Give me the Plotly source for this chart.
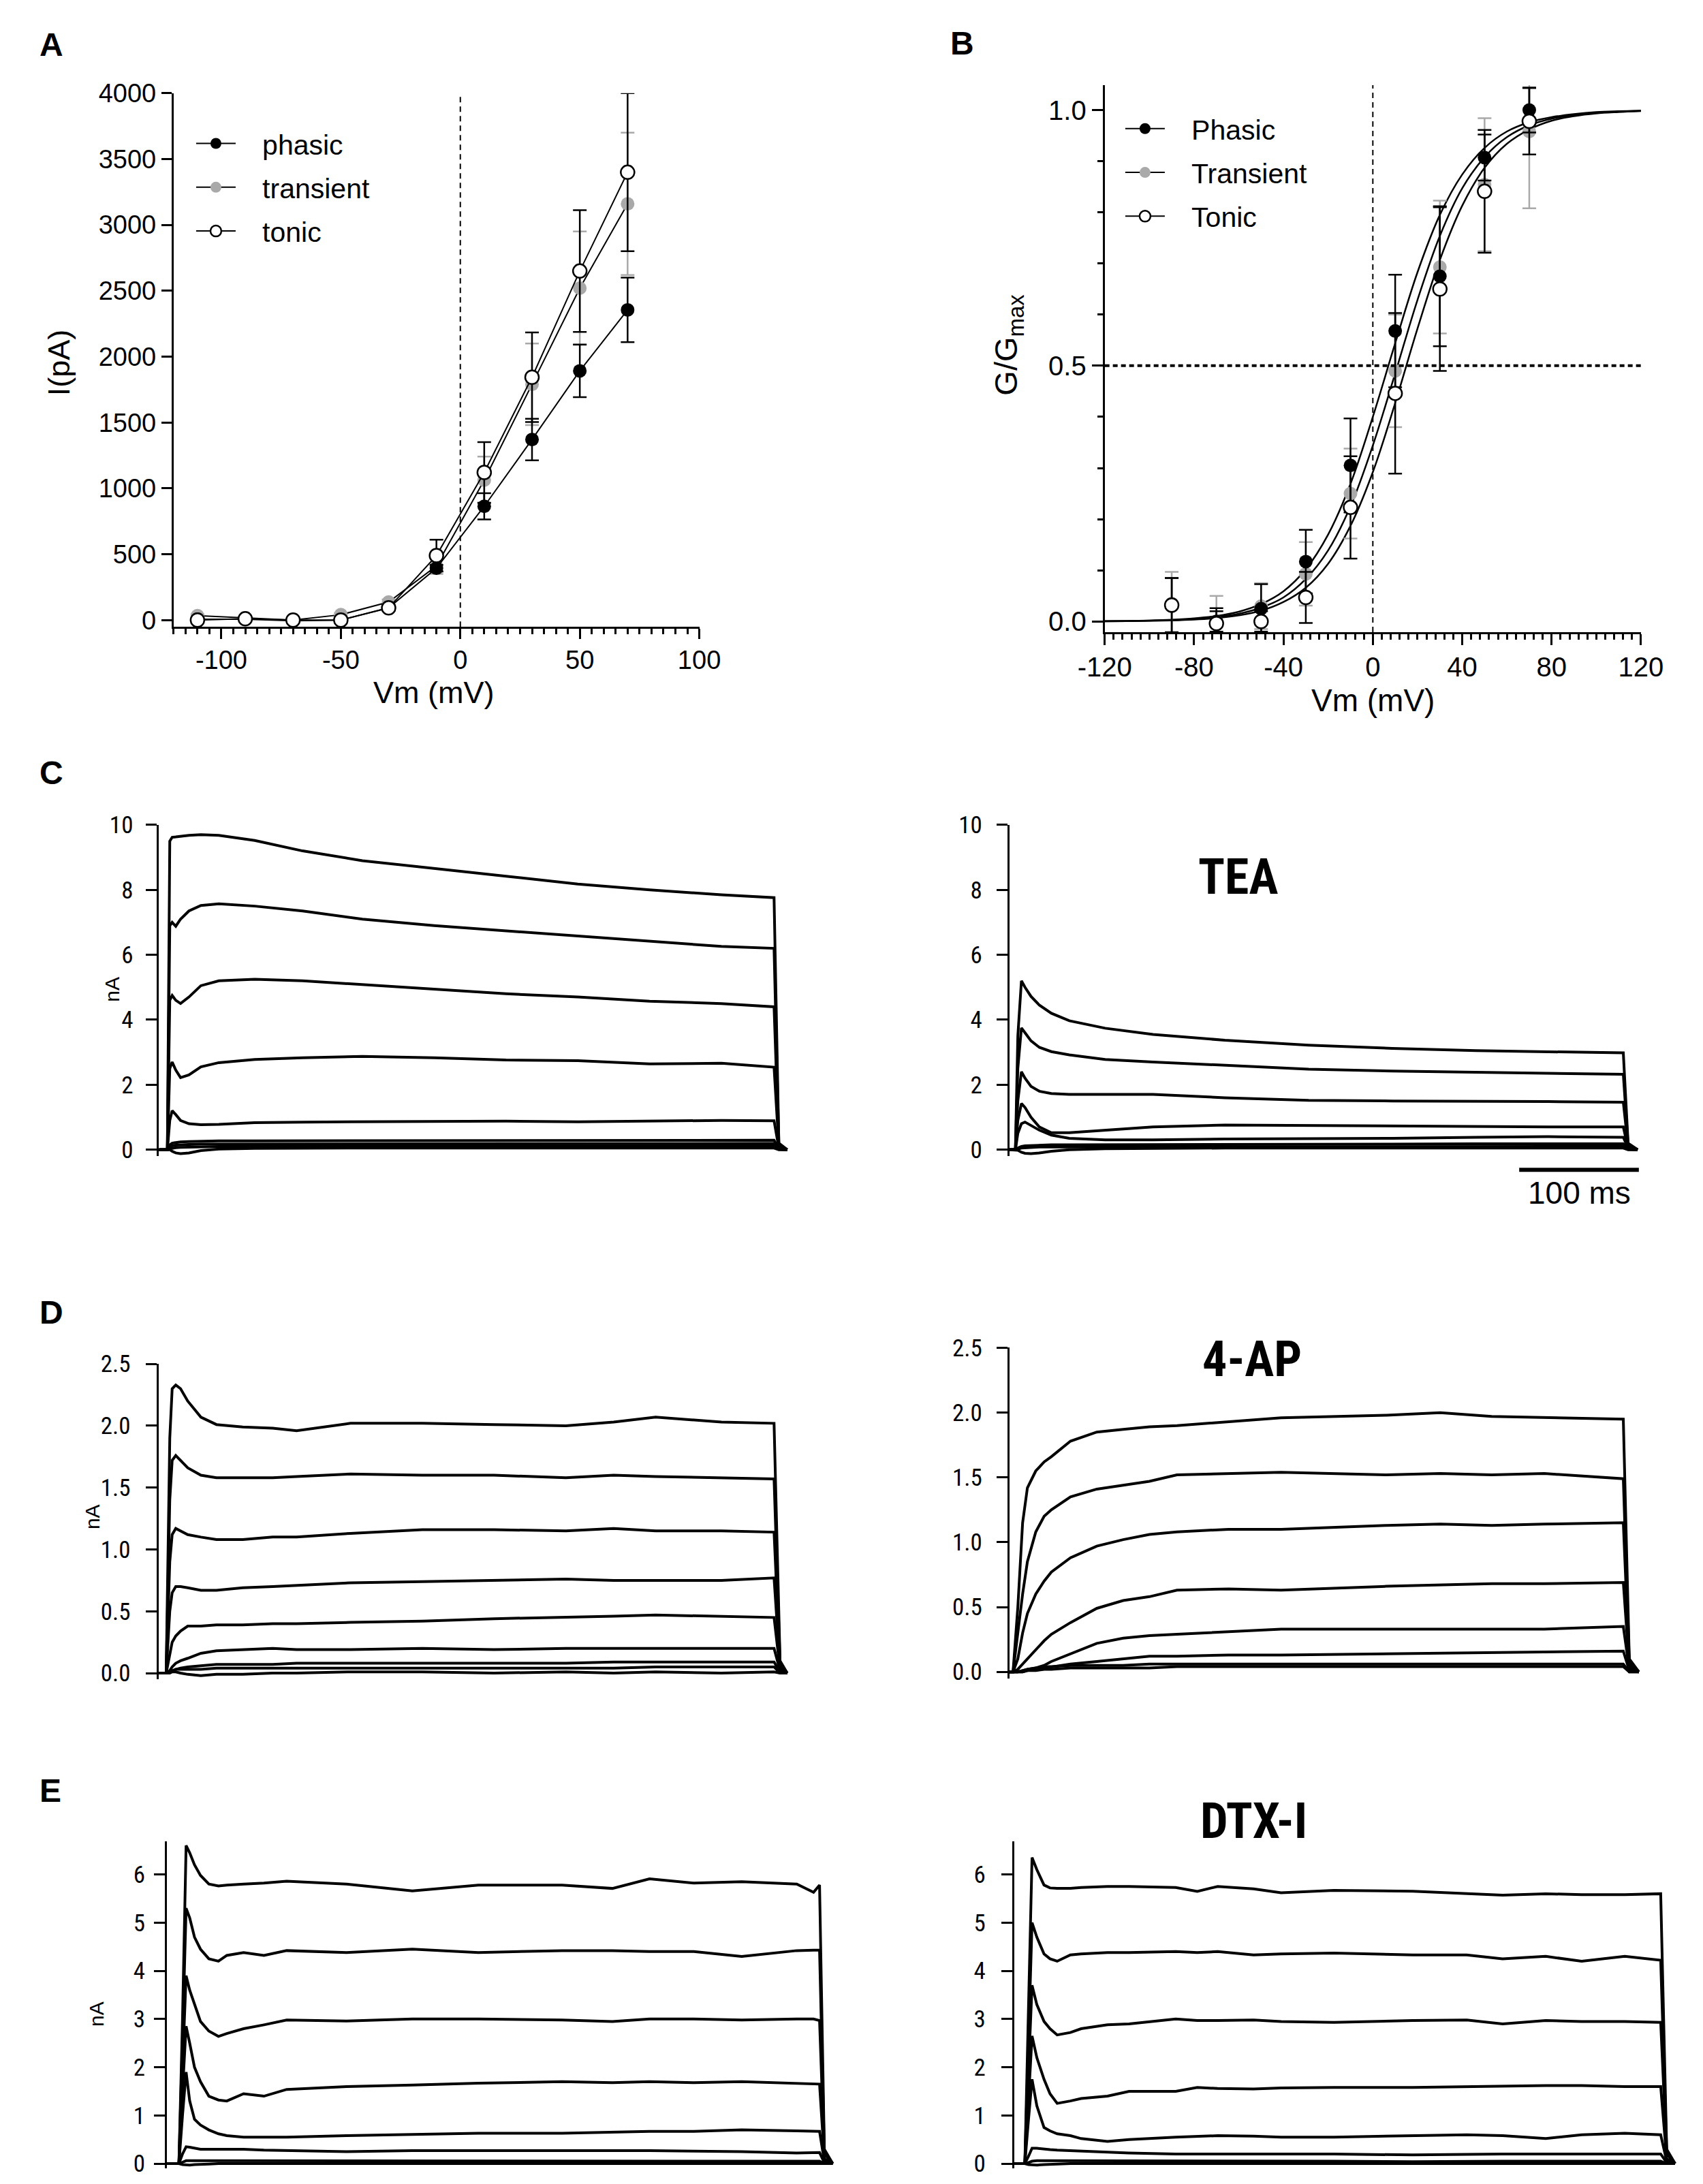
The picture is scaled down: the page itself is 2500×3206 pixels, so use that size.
import plotly.graph_objects as go

W, H = 2500, 3206

# ---------------- panel A : I-V ----------------
iv_vm = [-110, -90, -70, -50, -30, -10, 10, 30, 50, 70]
iv_phasic = [7, 7, -5, 0, 93, 394, 864, 1371, 1892, 2355]
iv_phasic_err = [10, 8, 8, 10, 15, 25, 100, 158, 200, 245]
iv_transient = [34, 17, 0, 41, 137, 411, 1063, 1790, 2520, 3160]
iv_transient_err = [10, 8, 8, 12, 20, 60, 178, 310, 430, 540]
iv_tonic = [0, 10, 0, 0, 93, 490, 1121, 1844, 2650, 3400]
iv_tonic_err = [8, 8, 8, 10, 20, 120, 230, 340, 462, 600]
iv_ticks = [-100, -50, 0, 50, 100]

# ---------------- panel B : G/Gmax ----------------
gv_vm = [-90, -70, -50, -30, -10, 10, 30, 50, 70]
gv_phasic = [0.03, 0.0, 0.025, 0.117, 0.305, 0.568, 0.675, 0.907, 1.0]
gv_phasic_err = [0.055, 0.02, 0.048, 0.062, 0.092, 0.11, 0.137, 0.045, 0.044]
gv_transient = [0.035, 0.0, 0.03, 0.093, 0.25, 0.49, 0.693, 0.854, 0.958]
gv_transient_err = [0.062, 0.05, 0.045, 0.062, 0.088, 0.11, 0.13, 0.13, 0.15]
gv_tonic = [0.032, -0.004, 0.0, 0.047, 0.223, 0.446, 0.65, 0.841, 0.978]
gv_tonic_err = [0.053, 0.03, 0.02, 0.05, 0.1, 0.157, 0.16, 0.12, 0.065]
gv_ticks = [-120, -80, -40, 0, 40, 80, 120]

# Boltzmann fit curves, every 10 mV
fit_vm = [-120, -110, -100, -90, -80, -70, -60, -50, -40, -30, -20, -10, 0,
          10, 20, 30, 40, 50, 60, 70, 80, 90, 100, 110, 120]
fit_phasic = [0.0006, 0.001, 0.0018, 0.0033, 0.006, 0.0107, 0.019, 0.034, 0.059,
              0.102, 0.17, 0.269, 0.40, 0.544, 0.683, 0.795, 0.874, 0.926, 0.958,
              0.976, 0.986, 0.992, 0.996, 0.9977, 0.9987]
fit_transient = [0.00045, 0.0008, 0.0015, 0.0026, 0.0047, 0.0085, 0.015, 0.027,
                 0.047, 0.083, 0.139, 0.225, 0.344, 0.485, 0.629, 0.754, 0.847,
                 0.908, 0.947, 0.970, 0.983, 0.990, 0.9947, 0.997, 0.9984]
fit_tonic = [0.00036, 0.00064, 0.0012, 0.0021, 0.0037, 0.0067, 0.012, 0.021,
             0.038, 0.066, 0.113, 0.187, 0.292, 0.427, 0.573, 0.707, 0.813,
             0.887, 0.934, 0.962, 0.979, 0.988, 0.9933, 0.996, 0.998]

# ---------------- current traces (nA vs ms) ----------------
c_t = [0, 7, 9, 11, 14, 18, 25, 35, 50, 80, 120, 170, 230, 290, 350, 410, 470, 514, 518, 525]
c_i = [
    [0, 0, 9.5, 9.62, 9.63, 9.65, 9.68, 9.7, 9.68, 9.52, 9.2, 8.9, 8.65, 8.42, 8.18, 8.0, 7.85, 7.76, 0.2, 0],
    [0, 0, 6.9, 7.0, 6.88, 7.1, 7.35, 7.52, 7.57, 7.5, 7.35, 7.1, 6.9, 6.74, 6.57, 6.42, 6.26, 6.2, 0.15, 0],
    [0, 0, 4.6, 4.75, 4.6, 4.5, 4.7, 5.05, 5.2, 5.25, 5.2, 5.08, 4.95, 4.8, 4.7, 4.57, 4.5, 4.4, 0.1, 0],
    [0, 0, 2.5, 2.7, 2.45, 2.22, 2.3, 2.55, 2.68, 2.78, 2.83, 2.87, 2.83, 2.76, 2.74, 2.64, 2.66, 2.54, 0.08, 0],
    [0, 0, 0.9, 1.2, 1.08, 0.9, 0.8, 0.77, 0.78, 0.83, 0.85, 0.86, 0.87, 0.88, 0.86, 0.88, 0.9, 0.89, 0.05, 0],
    [0, 0, 0.15, 0.2, 0.22, 0.24, 0.25, 0.26, 0.27, 0.27, 0.27, 0.28, 0.27, 0.28, 0.28, 0.28, 0.29, 0.29, 0.03, 0],
    [0, 0, 0.08, 0.12, 0.14, 0.15, 0.16, 0.17, 0.17, 0.18, 0.18, 0.18, 0.18, 0.18, 0.19, 0.19, 0.19, 0.19, 0.02, 0],
    [0, 0, 0.03, 0.05, 0.06, 0.07, 0.08, 0.09, 0.1, 0.1, 0.1, 0.1, 0.11, 0.11, 0.11, 0.11, 0.12, 0.12, 0.01, 0],
    [0, 0, 0, -0.05, -0.1, -0.12, -0.1, -0.03, 0.02, 0.04, 0.05, 0.05, 0.05, 0.05, 0.05, 0.05, 0.05, 0.05, 0, 0],
]

tea_t = [0, 5, 7, 10, 13, 18, 25, 35, 50, 80, 120, 180, 250, 320, 390, 450, 513, 517, 525]
tea_i = [
    [0, 0, 3.5, 5.2, 5.0, 4.72, 4.45, 4.2, 3.97, 3.74, 3.55, 3.37, 3.22, 3.12, 3.05, 3.01, 2.98, 0.2, 0],
    [0, 0, 2.5, 3.75, 3.6, 3.35, 3.15, 3.02, 2.92, 2.78, 2.7, 2.6, 2.48, 2.42, 2.38, 2.35, 2.32, 0.15, 0],
    [0, 0, 1.5, 2.4, 2.2, 1.95, 1.8, 1.73, 1.7, 1.7, 1.7, 1.6, 1.52, 1.5, 1.5, 1.48, 1.46, 0.1, 0],
    [0, 0, 0.9, 1.42, 1.3, 1.0, 0.7, 0.52, 0.52, 0.6, 0.7, 0.76, 0.74, 0.72, 0.71, 0.7, 0.7, 0.05, 0],
    [0, 0, 0.5, 0.8, 0.85, 0.75, 0.6, 0.45, 0.35, 0.3, 0.3, 0.33, 0.33, 0.35, 0.38, 0.4, 0.38, 0.05, 0],
    [0, 0, 0.05, 0.1, 0.12, 0.13, 0.14, 0.15, 0.15, 0.15, 0.15, 0.15, 0.16, 0.17, 0.18, 0.18, 0.18, 0.02, 0],
    [0, 0, 0.02, 0.05, 0.06, 0.07, 0.08, 0.08, 0.08, 0.08, 0.08, 0.09, 0.09, 0.1, 0.1, 0.1, 0.1, 0.01, 0],
    [0, 0, -0.02, -0.08, -0.11, -0.12, -0.1, -0.05, 0, 0.03, 0.04, 0.05, 0.05, 0.05, 0.05, 0.05, 0.05, 0, 0],
]

d_t = [0, 6, 9, 11, 14, 18, 24, 35, 48, 70, 95, 115, 160, 220, 280, 340, 380, 415, 470, 514, 519, 525]
d_i = [
    [0, 0, 1.9, 2.3, 2.33, 2.3, 2.2, 2.07, 2.01, 1.99, 1.98, 1.96, 2.02, 2.02, 2.01, 2.0, 2.03, 2.07, 2.03, 2.02, 0.1, 0],
    [0, 0, 1.4, 1.72, 1.76, 1.72, 1.66, 1.6, 1.58, 1.58, 1.58, 1.59, 1.61, 1.6, 1.6, 1.58, 1.6, 1.59, 1.58, 1.57, 0.08, 0],
    [0, 0, 0.9, 1.12, 1.17, 1.15, 1.12, 1.1, 1.08, 1.08, 1.1, 1.1, 1.13, 1.16, 1.16, 1.15, 1.17, 1.15, 1.15, 1.14, 0.06, 0],
    [0, 0, 0.5, 0.65, 0.7, 0.7, 0.69, 0.67, 0.67, 0.69, 0.7, 0.71, 0.73, 0.74, 0.75, 0.76, 0.75, 0.75, 0.75, 0.77, 0.04, 0],
    [0, 0, 0.15, 0.25, 0.3, 0.34, 0.38, 0.38, 0.39, 0.39, 0.4, 0.4, 0.41, 0.42, 0.44, 0.45, 0.46, 0.47, 0.46, 0.45, 0.03, 0],
    [0, 0, 0.02, 0.05, 0.08, 0.1, 0.12, 0.16, 0.18, 0.19, 0.2, 0.19, 0.19, 0.2, 0.19, 0.2, 0.2, 0.2, 0.2, 0.2, 0.02, 0],
    [0, 0, 0.01, 0.02, 0.03, 0.04, 0.05, 0.06, 0.07, 0.07, 0.07, 0.08, 0.08, 0.08, 0.08, 0.08, 0.09, 0.09, 0.09, 0.09, 0.01, 0],
    [0, 0, 0.01, 0.02, 0.03, 0.03, 0.03, 0.03, 0.04, 0.04, 0.04, 0.04, 0.04, 0.04, 0.04, 0.04, 0.04, 0.05, 0.05, 0.05, 0, 0],
    [0, 0, 0, 0.01, 0.01, 0, -0.01, -0.02, -0.01, -0.01, 0, 0, 0.01, 0.01, 0, 0.01, 0, 0.01, 0, 0.01, 0, 0],
]

ap_t = [0, 3, 7, 11, 15, 22, 29, 35, 51, 73, 95, 117, 140, 183, 227, 315, 360, 403, 447, 513, 518, 526]
ap_i = [
    [0, 0, 0.5, 1.15, 1.42, 1.55, 1.62, 1.66, 1.78, 1.85, 1.87, 1.89, 1.9, 1.93, 1.96, 1.98, 2.0, 1.97, 1.96, 1.95, 0.1, 0],
    [0, 0, 0.3, 0.6, 0.85, 1.08, 1.2, 1.25, 1.35, 1.41, 1.44, 1.47, 1.52, 1.53, 1.54, 1.52, 1.53, 1.52, 1.53, 1.49, 0.08, 0],
    [0, 0, 0.1, 0.3, 0.45, 0.6, 0.7, 0.77, 0.88, 0.97, 1.02, 1.06, 1.08, 1.1, 1.1, 1.13, 1.14, 1.13, 1.14, 1.15, 0.06, 0],
    [0, 0, 0.02, 0.06, 0.1, 0.17, 0.24, 0.29, 0.38, 0.49, 0.55, 0.58, 0.63, 0.64, 0.63, 0.66, 0.67, 0.68, 0.68, 0.69, 0.04, 0],
    [0, 0, 0, 0.01, 0.02, 0.03, 0.05, 0.08, 0.14, 0.22, 0.26, 0.28, 0.29, 0.31, 0.33, 0.33, 0.33, 0.33, 0.33, 0.35, 0.02, 0],
    [0, 0, 0, 0, 0.01, 0.02, 0.03, 0.04, 0.06, 0.08, 0.1, 0.12, 0.12, 0.13, 0.13, 0.14, 0.14, 0.15, 0.15, 0.16, 0.01, 0],
    [0, 0, 0, 0.01, 0.02, 0.03, 0.04, 0.04, 0.05, 0.05, 0.05, 0.06, 0.06, 0.06, 0.06, 0.06, 0.06, 0.06, 0.06, 0.06, 0, 0],
    [0, 0, 0, 0, 0.01, 0.01, 0.02, 0.02, 0.03, 0.03, 0.03, 0.03, 0.04, 0.04, 0.04, 0.04, 0.04, 0.04, 0.04, 0.04, 0, 0],
]

e_t = [0, 10, 13, 16, 19, 23, 28, 35, 43, 50, 64, 81, 100, 150, 205, 260, 330, 372, 403, 440, 480, 526, 540, 545, 549, 556]
e_i = [
    [0, 0, 3.0, 6.6, 6.45, 6.2, 5.98, 5.8, 5.76, 5.78, 5.8, 5.82, 5.86, 5.8, 5.66, 5.78, 5.78, 5.71, 5.91, 5.82, 5.85, 5.8, 5.63, 5.78, 0.3, 0],
    [0, 0, 2.6, 5.3, 5.1, 4.7, 4.45, 4.25, 4.2, 4.32, 4.38, 4.32, 4.42, 4.38, 4.45, 4.38, 4.42, 4.42, 4.4, 4.4, 4.3, 4.42, 4.43, 4.43, 0.25, 0],
    [0, 0, 2.0, 3.9, 3.6, 3.3, 2.95, 2.75, 2.64, 2.7, 2.8, 2.88, 2.98, 2.96, 3.0, 3.0, 2.98, 2.95, 3.0, 3.0, 2.98, 3.0, 3.0, 2.97, 0.2, 0],
    [0, 0, 1.5, 2.85, 2.5, 2.0, 1.7, 1.4, 1.32, 1.3, 1.45, 1.4, 1.54, 1.6, 1.63, 1.67, 1.7, 1.68, 1.7, 1.68, 1.7, 1.66, 1.65, 1.65, 0.1, 0],
    [0, 0, 1.0, 1.9, 1.3, 0.92, 0.8, 0.7, 0.62, 0.58, 0.55, 0.55, 0.55, 0.58, 0.6, 0.63, 0.63, 0.66, 0.67, 0.67, 0.7, 0.68, 0.67, 0.67, 0.05, 0],
    [0, 0, 0.2, 0.35, 0.34, 0.32, 0.3, 0.3, 0.3, 0.3, 0.3, 0.28, 0.27, 0.25, 0.27, 0.27, 0.28, 0.27, 0.27, 0.26, 0.25, 0.22, 0.22, 0.23, 0.02, 0],
    [0, 0, 0.03, 0.06, 0.06, 0.06, 0.05, 0.05, 0.05, 0.05, 0.05, 0.05, 0.05, 0.05, 0.06, 0.05, 0.05, 0.06, 0.05, 0.05, 0.06, 0.05, 0.05, 0.05, 0, 0],
    [0, 0, -0.02, -0.03, -0.03, -0.02, -0.02, -0.01, 0, 0, 0, 0.01, 0, 0, 0.01, 0, 0, 0.01, 0, 0, 0, 0.01, 0, 0, 0, 0],
]

dtx_t = [0, 9, 12, 15, 19, 25, 30, 36, 47, 56, 78, 96, 135, 153, 170, 200, 223, 267, 333, 378, 408, 444, 474, 510, 540, 545, 552]
dtx_i = [
    [0, 0, 3.2, 6.35, 6.1, 5.78, 5.72, 5.71, 5.71, 5.73, 5.75, 5.75, 5.73, 5.65, 5.75, 5.7, 5.62, 5.67, 5.65, 5.6, 5.57, 5.6, 5.58, 5.58, 5.6, 0.3, 0],
    [0, 0, 2.5, 5.0, 4.7, 4.35, 4.25, 4.2, 4.33, 4.35, 4.38, 4.38, 4.4, 4.38, 4.4, 4.33, 4.35, 4.37, 4.33, 4.33, 4.25, 4.3, 4.2, 4.3, 4.22, 0.25, 0],
    [0, 0, 1.9, 3.7, 3.3, 2.95, 2.8, 2.67, 2.72, 2.8, 2.88, 2.9, 3.0, 2.97, 2.97, 2.98, 2.95, 2.93, 2.97, 2.98, 2.9, 2.97, 2.95, 2.95, 2.93, 0.2, 0],
    [0, 0, 1.3, 2.65, 2.2, 1.75, 1.45, 1.25, 1.3, 1.35, 1.4, 1.5, 1.5, 1.58, 1.56, 1.55, 1.57, 1.58, 1.58, 1.6, 1.6, 1.62, 1.62, 1.6, 1.6, 0.1, 0],
    [0, 0, 0.9, 1.75, 1.2, 0.75, 0.68, 0.62, 0.58, 0.52, 0.46, 0.5, 0.55, 0.57, 0.58, 0.57, 0.55, 0.55, 0.58, 0.6, 0.58, 0.52, 0.6, 0.63, 0.6, 0.05, 0],
    [0, 0, 0.15, 0.32, 0.32, 0.3, 0.29, 0.28, 0.27, 0.27, 0.25, 0.22, 0.2, 0.2, 0.21, 0.2, 0.2, 0.2, 0.18, 0.2, 0.2, 0.2, 0.2, 0.2, 0.2, 0.02, 0],
    [0, 0, 0.02, 0.05, 0.06, 0.06, 0.05, 0.05, 0.05, 0.05, 0.05, 0.05, 0.05, 0.05, 0.05, 0.05, 0.05, 0.05, 0.04, 0.05, 0.05, 0.05, 0.05, 0.05, 0.05, 0, 0],
    [0, 0, -0.02, -0.03, -0.03, -0.02, -0.02, -0.01, 0, 0, 0, 0.01, 0, 0, 0.01, 0, 0, 0, 0.01, 0, 0, 0, 0.01, 0, 0, 0, 0],
]

scale_bar_ms = 100
scale_bar_end = 526

SANS = "Liberation Sans, Arial, sans-serif"
NARROW = "Liberation Sans Narrow, Arial Narrow, Roboto Condensed, Liberation Sans, sans-serif"
GREY = "#a9a9a9"
PAD = "\u00a0\u00a0\u00a0"  # gap between legend key and label


def xd(left, right):
    return [left / W, right / W]


def yd(top, bottom):
    return [1 - bottom / H, 1 - top / H]


fig = go.Figure()

# ---- A ----
series = [
    ("transient", iv_transient, iv_transient_err, GREY, GREY, 0, 2),
    ("phasic", iv_phasic, iv_phasic_err, "black", "black", 0, 1),
    ("tonic", iv_tonic, iv_tonic_err, "white", "black", 2.5, 3),
]
for name, vals, err, fill, ecol, lw, rank in series:
    fig.add_trace(go.Scatter(
        x=iv_vm, y=vals, name=PAD + name, mode="lines+markers", xaxis="x", yaxis="y",
        line=dict(color="black", width=2),
        marker=dict(size=20, color=fill, line=dict(color="black", width=lw)),
        error_y=dict(type="data", array=err, color=ecol, thickness=2.5, width=10),
        legend="legend", legendrank=rank, legendgroup=name,
    ))

# ---- B ----
for fit in [fit_phasic, fit_transient, fit_tonic]:
    fig.add_trace(go.Scatter(
        x=fit_vm, y=fit, mode="lines", xaxis="x2", yaxis="y2", showlegend=False,
        line=dict(color="black", width=2.5, shape="spline"),
    ))
series = [
    ("Transient", gv_transient, gv_transient_err, GREY, GREY, 0, 2),
    ("Phasic", gv_phasic, gv_phasic_err, "black", "black", 0, 1),
    ("Tonic", gv_tonic, gv_tonic_err, "white", "black", 2.5, 3),
]
for name, vals, err, fill, ecol, lw, rank in series:
    fig.add_trace(go.Scatter(
        x=gv_vm, y=vals, name=name, mode="markers", xaxis="x2", yaxis="y2",
        marker=dict(size=20, color=fill, line=dict(color="black", width=lw)),
        error_y=dict(type="data", array=err, color=ecol, thickness=2.5, width=10),
        showlegend=False,
    ))
    # legend key drawn as line + marker, like the original
    fig.add_trace(go.Scatter(
        x=[None], y=[None], name=PAD + name, mode="lines+markers", xaxis="x2", yaxis="y2",
        line=dict(color="black", width=2),
        marker=dict(size=20, color=fill, line=dict(color="black", width=lw)),
        legend="legend2", legendrank=rank, legendgroup=name,
    ))

# ---- traces ----
panels = [
    (c_t, c_i, "x3", "y3"),
    (tea_t, tea_i, "x4", "y4"),
    (d_t, d_i, "x5", "y5"),
    (ap_t, ap_i, "x6", "y6"),
    (e_t, e_i, "x7", "y7"),
    (dtx_t, dtx_i, "x8", "y8"),
]
for t, traces, xa, ya in panels:
    for vals in traces:
        fig.add_trace(go.Scatter(
            x=t, y=vals, mode="lines", xaxis=xa, yaxis=ya, showlegend=False,
            line=dict(color="black", width=4),
        ))

tick_common = dict(showline=True, linecolor="black", linewidth=3, ticks="outside",
                   tickcolor="black", tickwidth=3, showgrid=False, zeroline=False)
minor_x = dict(ticks="outside", ticklen=8, tickwidth=2.5, tickcolor="black", tick0=0)

layout_axes = dict(
    xaxis=dict(domain=xd(213, 1008), range=[-120, 100], anchor="y",
               tickvals=iv_ticks, ticktext=[str(v) for v in iv_ticks],
               ticklen=15, ticklabelstandoff=-2,
               minor=dict(dtick=5, **minor_x),
               tickfont=dict(family=SANS, size=38), **tick_common),
    yaxis=dict(domain=yd(109, 901), range=[-51, 4000], anchor="x", dtick=500, ticklen=15,
               tickfont=dict(family=SANS, size=38), **tick_common),
    xaxis2=dict(domain=xd(1621, 2432), range=[-120, 120], anchor="y2",
                tickvals=gv_ticks, ticktext=[str(v) for v in gv_ticks], ticklen=16,
                ticklabelstandoff=-2, minor=dict(dtick=4, **minor_x),
                tickfont=dict(family=SANS, size=40), **tick_common),
    yaxis2=dict(domain=yd(97, 909), range=[-0.0211, 1.0487], anchor="x2",
                tickvals=[0, 0.5, 1.0], ticktext=["0.0", "0.5", "1.0"], ticklen=16,
                minor=dict(dtick=0.1, **minor_x),
                tickfont=dict(family=SANS, size=40), **tick_common),
)

trace_axes = [
    ("3", (191, 1150), [0, 530], (1195, 1686.6), [-0.2, 10], 2, None, 12),
    ("4", (1477, 2436), [0, 530], (1195, 1686.6), [-0.2, 10], 2, None, 14),
    ("5", (191, 1150), [0, 530], (1995, 2463), [-0.05, 2.5], 0.5, ".1f", 16),
    ("6", (1477, 2436), [0, 530], (1971, 2461.6), [-0.05, 2.5], 0.5, ".1f", 14),
    ("7", (203, 1217), [0, 560], (2704, 3189), [-0.1, 6.68], 1, None, 6),
    ("8", (1484, 2498), [0, 560], (2704, 3189), [-0.1, 6.68], 1, None, 16),
]
for k, (xl, xr), xr_rng, (yt, yb), yr_rng, dt, fmt, gap in trace_axes:
    layout_axes["xaxis" + k] = dict(domain=xd(xl, xr), range=xr_rng, anchor="y" + k,
                                    visible=False)
    ya = dict(domain=yd(yt, yb), range=yr_rng, anchor="x" + k, dtick=dt, tick0=0,
              ticklen=16, ticklabelstandoff=gap,
              tickfont=dict(family=NARROW, size=35), **tick_common)
    if fmt:
        ya["tickformat"] = fmt
    layout_axes["yaxis" + k] = ya

fig.update_layout(**layout_axes)

shapes = [
    dict(type="line", xref="x", yref="y domain", x0=0, x1=0, y0=0, y1=1,
         line=dict(color="black", width=2, dash="8px,6px")),
    dict(type="line", xref="x2", yref="y2 domain", x0=0, x1=0, y0=0, y1=1,
         line=dict(color="black", width=2, dash="8px,6px")),
    dict(type="line", xref="x2 domain", yref="y2", x0=0, x1=1, y0=0.5, y1=0.5,
         line=dict(color="black", width=4, dash="7px,5px")),
    dict(type="line", xref="x4", yref="paper", x0=scale_bar_end - scale_bar_ms,
         x1=scale_bar_end, y0=1 - 1707 / H, y1=1 - 1707 / H,
         line=dict(color="black", width=6)),
]


def ann(text, x, y, size, family=SANS, bold=False, angle=0, xanchor="center"):
    if bold:
        text = "<b>" + text + "</b>"
    return dict(text=text, x=x / W, y=1 - y / H, xref="paper", yref="paper",
                showarrow=False, xanchor=xanchor, yanchor="middle", textangle=angle,
                font=dict(family=family, size=size, color="black"))


annotations = [
    ann("A", 8, 37, 48, bold=True, xanchor="left"),
    ann("B", 1385, 35, 48, bold=True, xanchor="left"),
    ann("C", 8, 1118, 48, bold=True, xanchor="left"),
    ann("D", 8, 1918, 48, bold=True, xanchor="left"),
    ann("E", 8, 2628, 48, bold=True, xanchor="left"),
    ann("I(pA)", 40, 509, 45, angle=-90),
    ann("Vm (mV)", 606, 998, 45),
    ann("G/G<sub>max</sub>", 1475, 482, 47, angle=-90),
    ann("Vm (mV)", 2027, 1010, 46),
    ann("nA", 120, 1439, 30, angle=-90),
    ann("nA", 90, 2222, 30, angle=-90),
    ann("nA", 96, 2960, 30, angle=-90),
    ann("TEA", 1823, 1272, 72, family=NARROW, bold=True),
    ann("4-AP", 1844, 1988, 72, family=NARROW, bold=True),
    ann("DTX-I", 1846, 2674, 72, family=NARROW, bold=True),
    ann("100 ms", 2339, 1741, 46),
]

fig.update_layout(
    width=W, height=H, margin=dict(l=0, r=0, t=0, b=0),
    paper_bgcolor="white", plot_bgcolor="white",
    font=dict(family=SANS, color="black"),
    shapes=shapes, annotations=annotations,
    legend=dict(x=242 / W, y=1 - 150 / H, xanchor="left", yanchor="top",
                font=dict(family=SANS, size=41), bgcolor="rgba(0,0,0,0)",
                traceorder="grouped", tracegroupgap=8, itemwidth=58),
    legend2=dict(x=1647 / W, y=1 - 128 / H, xanchor="left", yanchor="top",
                 font=dict(family=SANS, size=41), bgcolor="rgba(0,0,0,0)",
                 traceorder="grouped", tracegroupgap=8, itemwidth=58),
)

fig.write_html("out.html")
